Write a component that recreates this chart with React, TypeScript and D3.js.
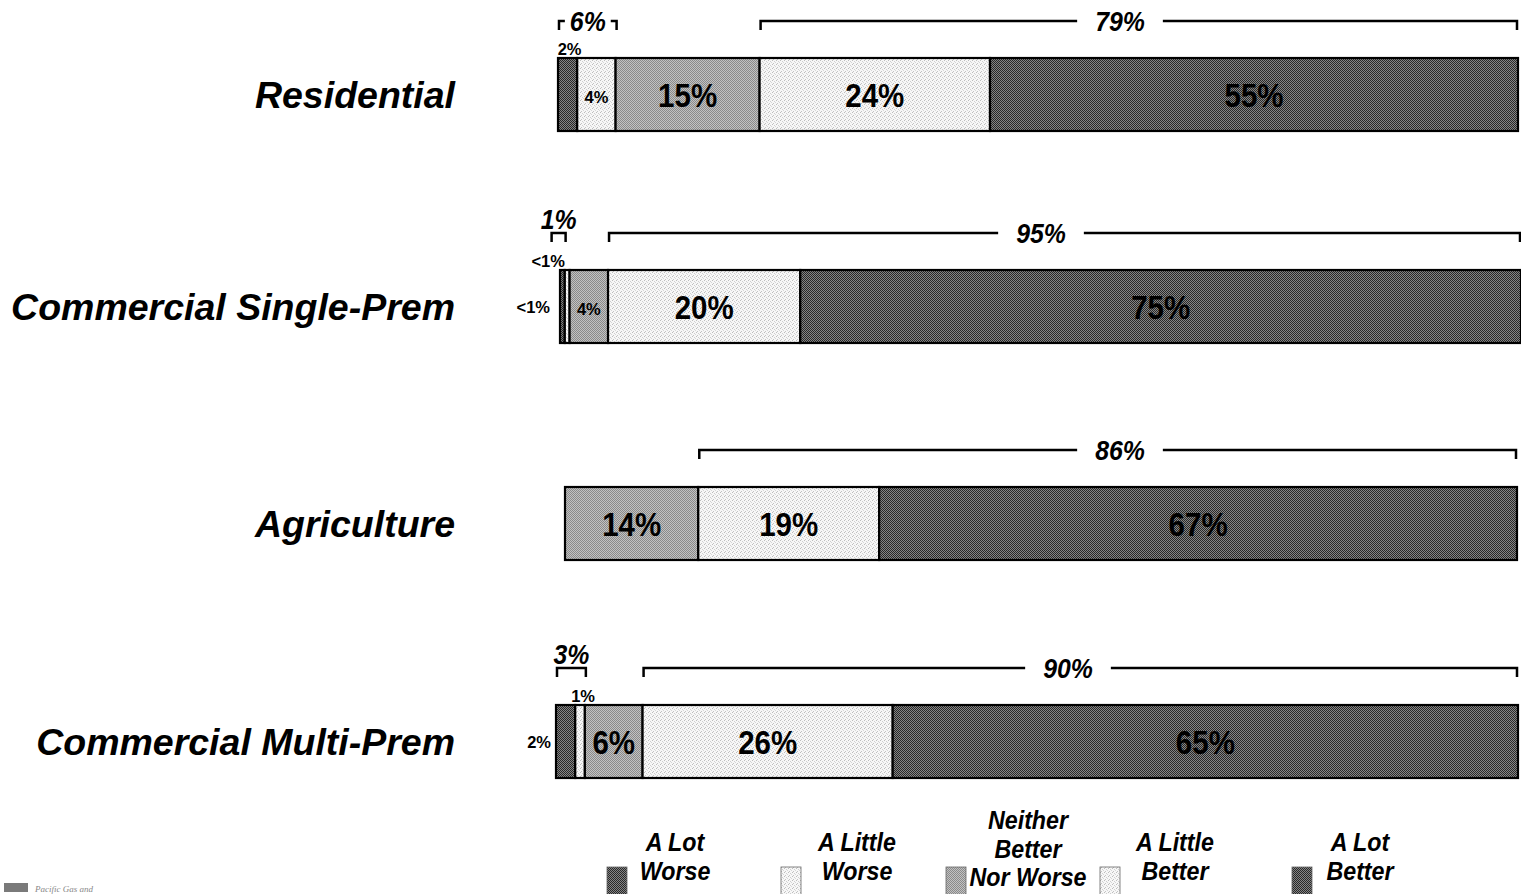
import React from "react";
import * as d3 from "d3";

// Survey responses by customer segment (percent of respondents)
const categories = ["Residential", "Commercial Single-Prem", "Agriculture", "Commercial Multi-Prem"];
const seriesNames = ["A Lot Worse", "A Little Worse", "Neither Better Nor Worse", "A Little Better", "A Lot Better"];
const legendLabels = [["A Lot", "Worse"], ["A Little", "Worse"], ["Neither", "Better", "Nor Worse"], ["A Little", "Better"], ["A Lot", "Better"]];

const aLotWorse = [2, 0.5, 0, 2];
const aLittleWorse = [4, 0.5, 0, 1];
const neitherBetterNorWorse = [15, 4, 14, 6];
const aLittleBetter = [24, 20, 19, 26];
const aLotBetter = [55, 75, 67, 65];

// Net "worse" and net "better" totals as reported
const worseNet = [6, 1, null, 3];
const betterNet = [79, 95, 86, 90];

// ---- layout ----
const W = 1521;
const H = 894;
const BAR_H = 73;
const rowLayout = [
  { x0: 558, x1: 1518, y: 58, betterLabelX: 1120 },
  { x0: 560, x1: 1521, y: 270, betterLabelX: 1041 },
  { x0: 565, x1: 1517, y: 487, betterLabelX: 1120 },
  { x0: 556, x1: 1518, y: 705, betterLabelX: 1068 },
];
// where the tiny segment labels go (outside the bar)
const outsidePlacement: Record<string, { pos: "above" | "left"; dx: number }> = {
  "0-0": { pos: "above", dx: 2 },
  "1-0": { pos: "left", dx: -10 },
  "1-1": { pos: "above", dx: -19 },
  "3-0": { pos: "left", dx: -5 },
  "3-1": { pos: "above", dx: 3 },
};
const worseBracketMinWidth = 14;
const worseBracketShift = [0, -8, 0, 0];
const legendSwatchX = [607, 781, 946, 1100, 1292];
const legendTextX = [675, 857, 1028, 1175, 1360];

const FONT = "'Liberation Sans', Arial, Helvetica, sans-serif";
const fills = ["url(#dark)", "url(#light)", "url(#mid)", "url(#light)", "url(#dark)"];

const table = categories.map((c, i) => ({
  category: c,
  [seriesNames[0]]: aLotWorse[i],
  [seriesNames[1]]: aLittleWorse[i],
  [seriesNames[2]]: neitherBetterNorWorse[i],
  [seriesNames[3]]: aLittleBetter[i],
  [seriesNames[4]]: aLotBetter[i],
}));

const stacked = d3.stack<any>().keys(seriesNames)(table);

const fmt = (v: number) => (v < 1 ? "<1%" : `${v}%`);

// approximate bold Arial width of a percent string
const textWidth = (s: string, size: number, sx: number) => {
  let w = 0;
  for (const ch of s) w += ch === "%" ? 0.889 : ch === "<" ? 0.584 : 0.556;
  return w * size * sx;
};

function Squeezed({ x, y, size, sx, children, italic, anchor = "middle", fill = "#000" }: any) {
  return (
    <g transform={`translate(${x},${y}) scale(${sx},1)`}>
      <text
        textAnchor={anchor}
        fontFamily={FONT}
        fontWeight="bold"
        fontStyle={italic ? "italic" : "normal"}
        fontSize={size}
        fill={fill}
      >
        {children}
      </text>
    </g>
  );
}

function Bracket({ xa, xb, y, label, labelX, inlinePad, above }: any) {
  const size = 27;
  const sx = 0.92;
  const tick = 9;
  const cx = labelX ?? (xa + xb) / 2;
  const sw = 2.5;
  if (above) {
    return (
      <g>
        <path d={`M${xa},${y + tick}V${y}H${xb}V${y + tick}`} fill="none" stroke="#000" strokeWidth={sw} />
        <Squeezed x={cx} y={y - 4} size={size} sx={sx} italic>{label}</Squeezed>
      </g>
    );
  }
  const tw = textWidth(label, size, sx);
  const gl = cx - tw / 2 - inlinePad;
  const gr = cx + tw / 2 + inlinePad;
  return (
    <g>
      <path d={`M${xa},${y + tick}V${y}H${gl}`} fill="none" stroke="#000" strokeWidth={sw} />
      <path d={`M${gr},${y}H${xb}V${y + tick}`} fill="none" stroke="#000" strokeWidth={sw} />
      <Squeezed x={cx} y={y + 10} size={size} sx={sx} italic>{label}</Squeezed>
    </g>
  );
}

export default function App() {
  return (
    <div style={{ position: "absolute", left: 0, top: 0 }}>
      <svg width={W} height={H} viewBox={`0 0 ${W} ${H}`} style={{ display: "block", background: "#fff" }}>
        <defs>
          <pattern id="dark" width={2} height={2} patternUnits="userSpaceOnUse">
            <rect width={2} height={2} fill="#858585" />
            <rect width={1} height={1} fill="#282828" />
            <rect x={1} y={1} width={1} height={1} fill="#282828" />
          </pattern>
          <pattern id="mid" width={2} height={2} patternUnits="userSpaceOnUse">
            <rect width={2} height={2} fill="#c2c2c2" />
            <rect width={1} height={1} fill="#8a8a8a" />
            <rect x={1} y={1} width={1} height={1} fill="#8a8a8a" />
          </pattern>
          <pattern id="light" width={4} height={4} patternUnits="userSpaceOnUse">
            <rect width={4} height={4} fill="#f7f7f7" />
            <rect x={0} y={0} width={1} height={1} fill="#bdbdbd" />
            <rect x={2} y={1} width={1} height={1} fill="#cfcfcf" />
            <rect x={1} y={3} width={1} height={1} fill="#c4c4c4" />
            <rect x={3} y={2} width={1} height={1} fill="#d6d6d6" />
          </pattern>
        </defs>

        {categories.map((cat, ri) => {
          const L = rowLayout[ri];
          const total = d3.sum(stacked, (s) => s[ri][1] - s[ri][0]);
          const x = d3.scaleLinear().domain([0, total]).range([L.x0, L.x1]);
          const cy = L.y + BAR_H / 2;
          const worseEnd = stacked[1][ri][1];
          const betterStart = stacked[3][ri][0];
          const bracketY = L.y - 37;
          const wn = worseNet[ri];
          return (
            <g key={cat}>
              <text
                x={455}
                y={cy + 13}
                textAnchor="end"
                fontFamily={FONT}
                fontWeight="bold"
                fontStyle="italic"
                fontSize={37.5}
                fill="#000"
              >
                {cat}
              </text>

              {stacked.map((s, si) => {
                const d = s[ri];
                const v = d[1] - d[0];
                if (v <= 0) return null;
                return (
                  <rect
                    key={si}
                    x={x(d[0])}
                    y={L.y}
                    width={x(d[1]) - x(d[0])}
                    height={BAR_H}
                    fill={fills[si]}
                    stroke="#000"
                    strokeWidth={2.2}
                  />
                );
              })}

              {stacked.map((s, si) => {
                const d = s[ri];
                const v = d[1] - d[0];
                if (v <= 0) return null;
                const mx = (x(d[0]) + x(d[1])) / 2;
                if (v >= 6) {
                  return (
                    <Squeezed key={si} x={mx} y={cy + 12.5} size={33.5} sx={0.88}>
                      {fmt(v)}
                    </Squeezed>
                  );
                }
                if (v >= 3) {
                  return (
                    <Squeezed key={si} x={mx} y={cy + 8.5} size={17} sx={0.97}>
                      {fmt(v)}
                    </Squeezed>
                  );
                }
                const p = outsidePlacement[`${ri}-${si}`];
                if (!p) return null;
                if (p.pos === "above") {
                  return (
                    <Squeezed key={si} x={mx + p.dx} y={L.y - 3} size={17} sx={0.97}>
                      {fmt(v)}
                    </Squeezed>
                  );
                }
                return (
                  <Squeezed key={si} x={L.x0 + p.dx} y={cy + 6.5} size={17} sx={0.97} anchor="end">
                    {fmt(v)}
                  </Squeezed>
                );
              })}

              {wn != null && (() => {
                const xb = x(worseEnd) + 1 + worseBracketShift[ri] + (ri === 1 ? 3 : 0);
                const xa = Math.min(x(0) + 1 + worseBracketShift[ri], xb - worseBracketMinWidth);
                const label = `${wn}%`;
                const fits = xb - xa >= 50;
                return <Bracket xa={xa} xb={xb} y={bracketY} label={label} inlinePad={5} above={!fits} />;
              })()}

              <Bracket
                xa={x(betterStart) + 1}
                xb={L.x1 - 1}
                y={bracketY}
                label={`${betterNet[ri]}%`}
                labelX={L.betterLabelX}
                inlinePad={18}
              />
            </g>
          );
        })}

        {/* legend */}
        {seriesNames.map((name, i) => {
          const lines = legendLabels[i];
          const first = lines.length === 3 ? 829 : 851;
          return (
            <g key={name}>
              <rect x={legendSwatchX[i]} y={867} width={20} height={30} fill={fills[i]} stroke="#666" strokeWidth={0.8} />
              {lines.map((ln, li) => (
                <Squeezed key={li} x={legendTextX[i]} y={first + li * 28.7} size={25} sx={0.93} italic>
                  {ln}
                </Squeezed>
              ))}
            </g>
          );
        })}

        {/* footer mark */}
        <rect x={4} y={883} width={24} height={9} fill="#7a7a7a" />
        <text x={35} y={892} fontFamily="'Liberation Serif', serif" fontStyle="italic" fontSize={9} fill="#888">
          Pacific Gas and
        </text>
      </svg>
    </div>
  );
}
